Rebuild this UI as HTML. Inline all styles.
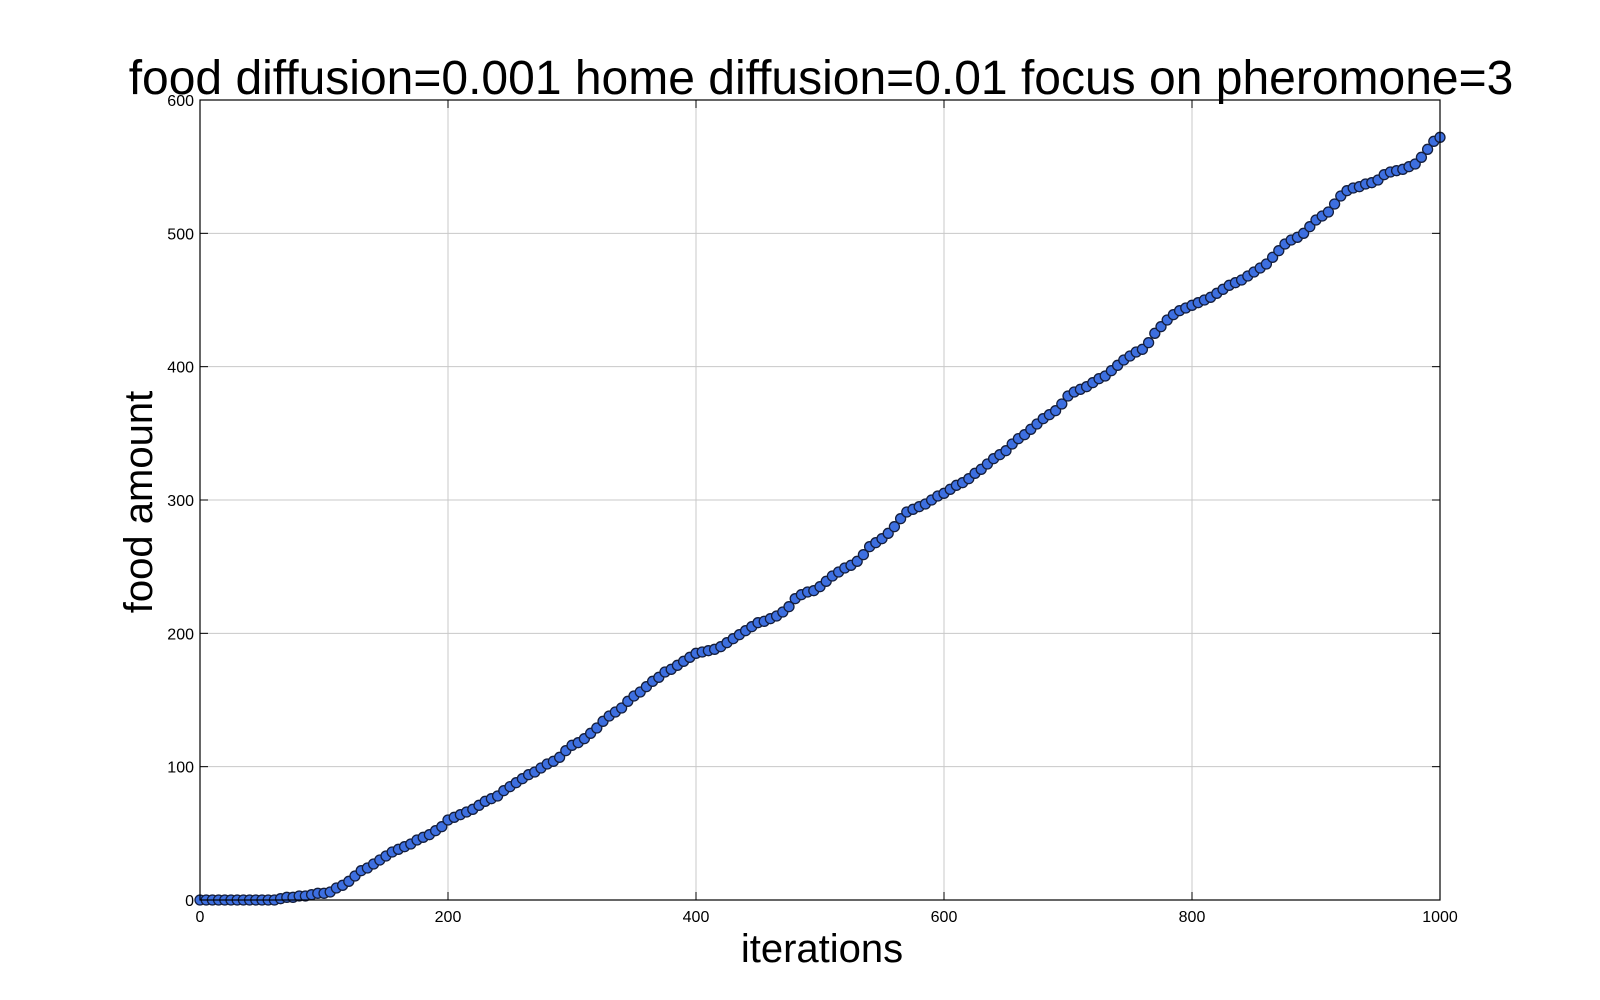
<!DOCTYPE html>
<html><head><meta charset="utf-8"><style>
body{margin:0;background:#fff;}
svg{display:block;font-family:"Liberation Sans",sans-serif;}
</style></head><body>
<svg id="chart" width="1600" height="1000" viewBox="0 0 1600 1000" xmlns="http://www.w3.org/2000/svg">
<rect width="1600" height="1000" fill="#fff"/>
<g id="grid"></g>
<g id="marks"></g>
<rect x="200" y="100" width="1240" height="800" fill="none" stroke="#000" stroke-width="1.2"/>
<g id="ticks"></g>
<text x="821" y="94" text-anchor="middle" font-size="48">food diffusion=0.001 home diffusion=0.01 focus on pheromone=3</text>
<text x="822" y="962" text-anchor="middle" font-size="40">iterations</text>
<text transform="translate(152,502) rotate(-90)" text-anchor="middle" font-size="40">food amount</text>
</svg>
<script>
const xTicks=[0,200,400,600,800,1000];
const yTicks=[0,100,200,300,400,500,600];
const iterations=[];for(let i=0;i<=1000;i+=5)iterations.push(i);
const food=[0,0,0,0,0,0,0,0,0,0,0,0,0,1,2,2,3,3,4,5,5,6,9,11,14,18,22,24,27,30,33,36,38,40,42,45,47,49,52,55,60,62,64,66,68,71,74,76,78,82,85,88,91,94,96,99,102,104,107,112,116,118,121,125,129,134,138,141,144,149,153,156,160,164,167,171,173,176,179,182,185,186,187,188,190,193,196,199,202,205,208,209,211,213,216,220,226,229,231,232,235,239,243,246,249,251,254,259,265,268,271,275,280,286,291,293,295,297,300,303,305,308,311,313,316,320,323,327,331,334,337,342,346,349,353,357,361,364,367,372,378,381,383,385,388,391,393,397,401,405,408,411,413,418,425,430,435,439,442,444,446,448,450,452,455,458,461,463,465,468,471,474,477,482,487,492,495,497,500,505,510,513,516,522,528,532,534,535,537,538,540,544,546,547,548,550,552,557,563,569,572];
const NS="http://www.w3.org/2000/svg";
const X0=200,X1=1440,Y0=900,Y1=100;
const xs=v=>X0+(v-0)/(1000-0)*(X1-X0);
const ys=v=>Y0-(v-0)/(600-0)*(Y0-Y1);
const grid=document.getElementById('grid'),ticks=document.getElementById('ticks'),marks=document.getElementById('marks');
function mk(tag,attrs,parent){const e=document.createElementNS(NS,tag);for(const k in attrs)e.setAttribute(k,attrs[k]);parent.appendChild(e);return e;}
xTicks.forEach(t=>{const x=xs(t);
 const g=mk('line',{x1:x,x2:x,y1:Y1,y2:Y0,stroke:'#c8c8c8','stroke-width':1},grid);
 
 
 mk('line',{x1:x,x2:x,y1:Y0,y2:Y0-8,stroke:'#000'},ticks);
 mk('line',{x1:x,x2:x,y1:Y1,y2:Y1+8,stroke:'#000'},ticks);
 const l=mk('text',{x:x,y:Y0+22,'text-anchor':'middle','font-size':16},ticks);l.textContent=t;
 
 
});
yTicks.forEach(t=>{const y=ys(t);
 const g=mk('line',{x1:X0,x2:X1,y1:y,y2:y,stroke:'#c8c8c8','stroke-width':1},grid);
 
 
 mk('line',{x1:X0,x2:X0+8,y1:y,y2:y,stroke:'#000'},ticks);
 mk('line',{x1:X1,x2:X1-8,y1:y,y2:y,stroke:'#000'},ticks);
 const l=mk('text',{x:X0-6,y:y+6,'text-anchor':'end','font-size':16},ticks);l.textContent=t;
 
 
});
iterations.forEach((it,i)=>{
 const c=mk('circle',{cx:xs(it),cy:ys(food[i]),r:5,fill:'#3d6fe0',stroke:'#141e3c','stroke-width':1.3},marks);
 
 
});
</script>
</body></html>
